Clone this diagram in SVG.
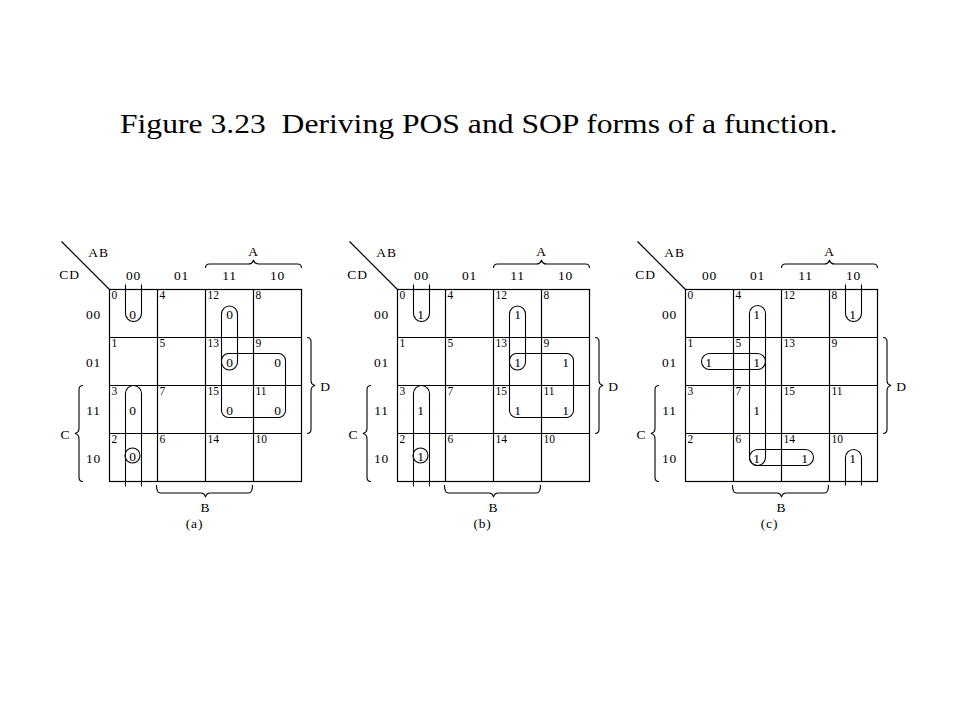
<svg xmlns="http://www.w3.org/2000/svg" width="960" height="720" viewBox="0 0 960 720">
<defs>
<style>
.ln{fill:none;stroke:#000;stroke-width:1.2}
.lp{fill:none;stroke:#000;stroke-width:1.1}
.t{font-family:"Liberation Serif","Times New Roman",serif;fill:#000}
.lb{font-size:13.5px;text-anchor:middle;letter-spacing:0.8px}
.n{font-size:11.5px}
.v{font-size:13.5px;text-anchor:middle}
.title{font-size:28px}
</style>
<g id="kgrid">
<rect x="0" y="0" width="192" height="192" class="ln"/>
<path class="ln" d="M48,0V192M96,0V192M144,0V192M0,48H192M0,96H192M0,144H192M-48,-48L0,0"/>
<path class="lp" d="M96,-21.5Q96,-25.5 100,-25.5H139Q143,-25.5 144,-29.5Q145,-25.5 149,-25.5H188Q192,-25.5 192,-21.5"/>
<path class="lp" d="M47,195.5Q47,203.5 51,203.5H91Q95,203.5 96,207.5Q97,203.5 101,203.5H139Q143,203.5 143,195.5"/>
<path class="lp" d="M197.5,48Q201.5,48 201.5,52V91Q201.5,95 205.5,96Q201.5,97 201.5,101V140Q201.5,144 197.5,144"/>
<path class="lp" d="M-26.5,96Q-30.5,96 -30.5,100V139Q-30.5,143 -34.5,144Q-30.5,145 -30.5,149V188Q-30.5,192 -26.5,192"/>
<g class="t lb">
<text x="-11" y="-33">AB</text>
<text x="-40" y="-11">CD</text>
<text x="24" y="-9.5">00</text>
<text x="72" y="-9.5">01</text>
<text x="120" y="-9.5">11</text>
<text x="168" y="-9.5">10</text>
<text x="-16" y="29">00</text>
<text x="-16" y="77">01</text>
<text x="-16" y="125">11</text>
<text x="-16" y="173">10</text>
<text x="144" y="-34">A</text>
<text x="216" y="101">D</text>
<text x="-44" y="149">C</text>
<text x="96" y="222">B</text>
</g>
<g class="t n">
<text x="2" y="9.5">0</text><text x="50" y="9.5">4</text><text x="98" y="9.5">12</text><text x="146" y="9.5">8</text>
<text x="2" y="57.5">1</text><text x="50" y="57.5">5</text><text x="98" y="57.5">13</text><text x="146" y="57.5">9</text>
<text x="2" y="105.5">3</text><text x="50" y="105.5">7</text><text x="98" y="105.5">15</text><text x="146" y="105.5">11</text>
<text x="2" y="153.5">2</text><text x="50" y="153.5">6</text><text x="98" y="153.5">14</text><text x="146" y="153.5">10</text>
</g>
</g>
</defs>

<g id="title" transform="translate(120,133) scale(1.13,1)">
<text class="t title" x="0" y="0" xml:space="preserve">Figure 3.23  Deriving POS and SOP forms of a function.</text>
</g>

<g id="map-a" transform="translate(109.5,289.5)">
<use href="#kgrid"/>
<text class="t lb" x="85" y="238">(a)</text>
<g class="t v">
<text x="23" y="29">0</text>
<text x="120" y="29">0</text>
<text x="120" y="77">0</text>
<text x="168" y="77">0</text>
<text x="120" y="125">0</text>
<text x="168" y="125">0</text>
<text x="23" y="125">0</text>
<text x="23" y="171">0</text>
</g>
<g id="loops-a">
<path class="lp" d="M16,-5V24A8,8 0 0 0 32,24V-5"/>
<path class="lp" d="M16,197V104A8,8 0 0 1 32,104V197"/>
<rect class="lp" x="112" y="16.5" width="16" height="64" rx="8"/>
<rect class="lp" x="112" y="64" width="64" height="64" rx="7"/>
<circle class="lp" cx="23" cy="166" r="7.5"/>
</g>
</g>

<g id="map-b" transform="translate(397.5,289.5)">
<use href="#kgrid"/>
<text class="t lb" x="85" y="238">(b)</text>
<g class="t v">
<text x="23" y="29">1</text>
<text x="120" y="29">1</text>
<text x="120" y="77">1</text>
<text x="168" y="77">1</text>
<text x="120" y="125">1</text>
<text x="168" y="125">1</text>
<text x="23" y="125">1</text>
<text x="23" y="171">1</text>
</g>
<g id="loops-b">
<path class="lp" d="M16,-5V24A8,8 0 0 0 32,24V-5"/>
<path class="lp" d="M16,197V104A8,8 0 0 1 32,104V197"/>
<rect class="lp" x="112" y="16.5" width="16" height="64" rx="8"/>
<rect class="lp" x="112" y="64" width="64" height="64" rx="7"/>
<circle class="lp" cx="23" cy="166" r="7.5"/>
</g>
</g>

<g id="map-c" transform="translate(685.5,289.5)">
<use href="#kgrid"/>
<text class="t lb" x="84" y="238">(c)</text>
<g class="t v">
<text x="71" y="29">1</text>
<text x="167" y="29">1</text>
<text x="23" y="77">1</text>
<text x="71" y="77">1</text>
<text x="71" y="125">1</text>
<text x="71" y="173">1</text>
<text x="119" y="173">1</text>
<text x="167" y="173">1</text>
</g>
<g id="loops-c">
<path class="lp" d="M160,-5V24A8,8 0 0 0 176,24V-5"/>
<path class="lp" d="M160,196V168A8,8 0 0 1 176,168V196"/>
<rect class="lp" x="64" y="16" width="16" height="160" rx="8"/>
<rect class="lp" x="16" y="64" width="64" height="16" rx="8"/>
<rect class="lp" x="64" y="160" width="64" height="16" rx="8"/>
</g>
</g>
</svg>
